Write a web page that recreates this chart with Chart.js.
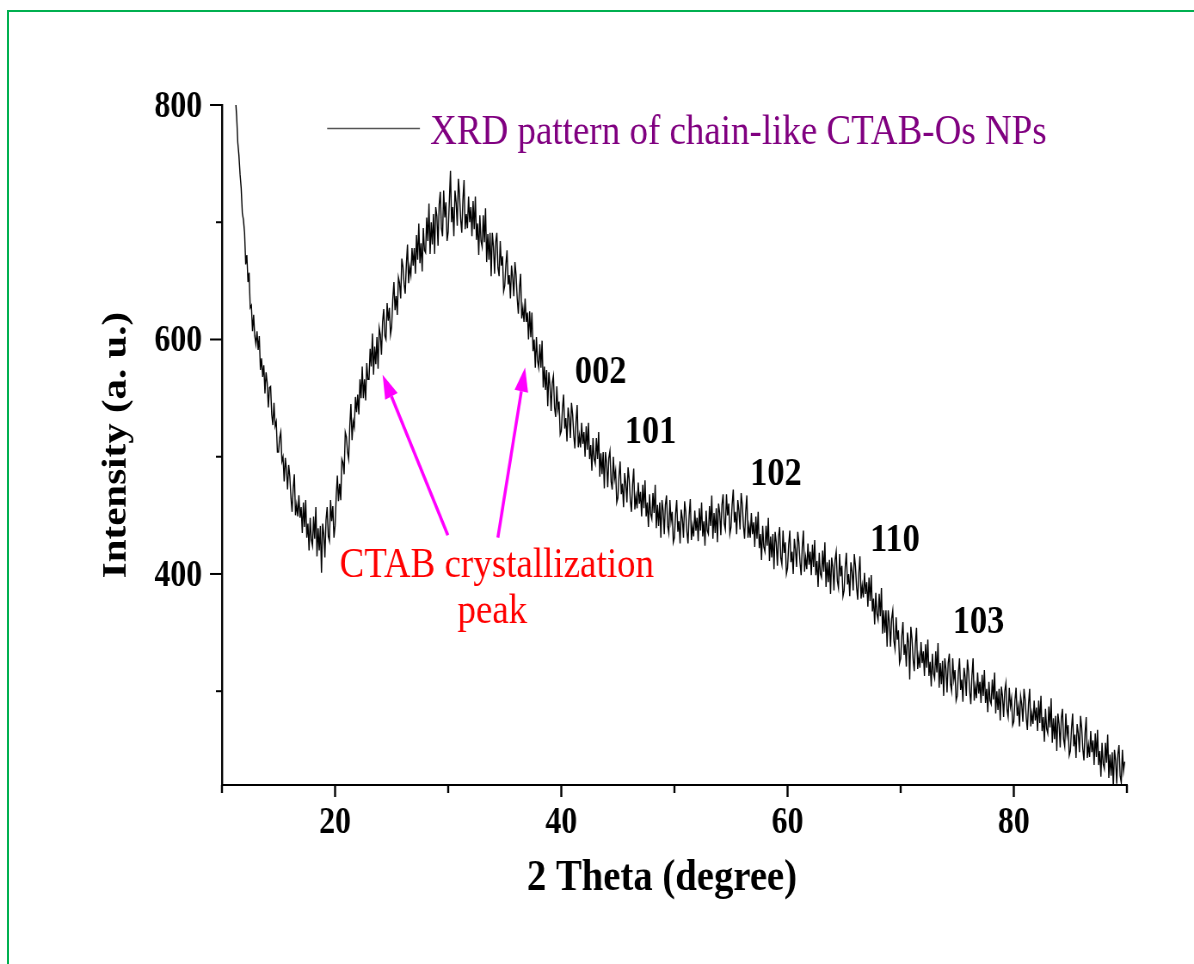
<!DOCTYPE html>
<html>
<head>
<meta charset="utf-8">
<script src="https://cdn.jsdelivr.net/npm/chart.js@4.4.1/dist/chart.umd.min.js"></script>
<style>
  html, body { margin: 0; padding: 0; background: #fff; overflow: hidden; }
  #frame { position: absolute; left: 7px; top: 10px; width: 1220px; height: 1000px; border: 2px solid #00b050; }
  /* the original figure is squeezed horizontally, so the whole canvas is too */
  #wrap { position: absolute; left: 0; top: 0; width: 1388px; height: 964px; transform: scaleX(0.86023); transform-origin: 0 0; }
</style>
</head>
<body>
<div id="frame"></div>
<div id="wrap"><canvas id="xrd" width="1388" height="964"></canvas></div>
<script>
// XRD scan: first angle and step (degrees), then counts
const startAngle = 11.2;
const stepAngle = 0.1;
const intensity = [
  805, 790, 768, 757, 741, 729, 708, 702,
  691, 664, 672, 649, 657, 627, 629, 607, 621, 603, // 12
  596, 607, 591, 603, 574, 584, 568, 578, 554, 572, // 13
  563, 542, 559, 560, 536, 527, 546, 526, 530, 504, // 14
  504, 516, 521, 496, 500, 479, 499, 489, 472, 493, // 15
  483, 465, 453, 473, 485, 450, 459, 449, 467, 448, // 16
  457, 435, 461, 440, 463, 431, 443, 420, 448, 429, // 17
  424, 449, 430, 457, 415, 439, 420, 441, 401, 443, // 18
  434, 414, 446, 457, 432, 428, 463, 445, 458, 431, // 19
  441, 466, 484, 462, 477, 463, 498, 495, 485, 521, // 20
  517, 504, 498, 526, 545, 514, 530, 525, 551, 538, // 21
  553, 536, 566, 550, 577, 550, 566, 548, 580, 566, // 22
  566, 592, 577, 605, 570, 594, 579, 602, 575, 610, // 23
  604, 587, 615, 626, 603, 600, 631, 616, 627, 604, // 24
  611, 634, 649, 625, 637, 621, 653, 648, 635, 669, // 25
  662, 647, 639, 664, 681, 648, 662, 655, 678, 663, // 26
  678, 656, 689, 668, 699, 665, 682, 658, 695, 676, // 27
  674, 704, 684, 716, 673, 700, 681, 707, 673, 713, // 28
  705, 680, 715, 726, 695, 688, 727, 704, 717, 684, // 29
  692, 718, 744, 700, 713, 688, 727, 717, 697, 737, // 30
  724, 703, 691, 719, 736, 694, 707, 695, 722, 700, // 31
  713, 688, 718, 694, 722, 685, 699, 672, 706, 684, // 32
  679, 706, 683, 712, 666, 690, 668, 691, 654, 691, // 33
  679, 656, 683, 691, 661, 654, 684, 663, 671, 641, // 34
  646, 664, 676, 647, 655, 635, 663, 653, 637, 666, // 35
  655, 635, 622, 644, 656, 618, 627, 615, 635, 615, // 36
  623, 600, 624, 602, 623, 590, 600, 576, 602, 582, // 37
  576, 596, 576, 599, 559, 577, 557, 574, 543, 572, // 38
  561, 539, 563, 569, 542, 534, 560, 540, 547, 519, // 39
  522, 541, 553, 524, 533, 513, 542, 533, 516, 546, // 40
  536, 518, 507, 530, 544, 508, 518, 508, 529, 511, // 41
  521, 500, 526, 506, 529, 498, 510, 488, 516, 498, // 42
  494, 516, 498, 521, 483, 503, 485, 504, 473, 504, // 43
  495, 474, 499, 505, 479, 472, 500, 481, 488, 461, // 44
  465, 484, 496, 468, 477, 457, 486, 477, 461, 491, // 45
  481, 463, 453, 476, 490, 455, 466, 456, 478, 460, // 46
  470, 449, 476, 456, 480, 449, 461, 440, 468, 451, // 47
  447, 469, 452, 476, 439, 459, 441, 461, 431, 463, // 48
  454, 434, 459, 467, 441, 435, 463, 445, 453, 427, // 49
  431, 451, 463, 436, 445, 426, 455, 447, 431, 462, // 50
  453, 436, 426, 450, 464, 429, 441, 432, 454, 437, // 51
  448, 428, 456, 437, 461, 432, 445, 424, 454, 437, // 52
  434, 458, 441, 467, 430, 452, 435, 456, 427, 460, // 53
  452, 433, 459, 468, 443, 438, 468, 450, 460, 434, // 54
  440, 459, 472, 444, 453, 434, 463, 454, 438, 469, // 55
  459, 441, 430, 453, 467, 431, 441, 431, 452, 434, // 56
  444, 423, 449, 430, 453, 422, 434, 412, 441, 423, // 57
  419, 441, 424, 448, 411, 432, 414, 434, 404, 436, // 58
  427, 407, 432, 440, 414, 408, 437, 418, 427, 400, // 59
  405, 425, 437, 410, 419, 400, 430, 421, 406, 436, // 60
  427, 410, 399, 423, 437, 402, 414, 404, 426, 408, // 61
  419, 399, 425, 406, 429, 399, 411, 389, 418, 400, // 62
  397, 420, 402, 427, 389, 410, 393, 412, 383, 414, // 63
  406, 386, 412, 419, 394, 388, 417, 398, 407, 381, // 64
  386, 406, 418, 391, 400, 381, 410, 402, 386, 417, // 65
  407, 389, 378, 401, 415, 379, 390, 380, 401, 383, // 66
  393, 372, 397, 377, 399, 368, 379, 357, 384, 366, // 67
  361, 383, 364, 388, 349, 369, 350, 369, 338, 369, // 68
  359, 338, 362, 369, 343, 336, 363, 344, 352, 324, // 69
  328, 347, 359, 331, 340, 321, 350, 341, 310, 355, // 70
  345, 327, 317, 340, 354, 319, 330, 320, 342, 324, // 71
  334, 313, 340, 320, 344, 313, 325, 304, 332, 315, // 72
  311, 334, 316, 341, 303, 324, 306, 326, 296, 328, // 73
  319, 299, 324, 332, 306, 300, 328, 310, 318, 292, // 74
  296, 316, 328, 301, 310, 291, 320, 312, 296, 327, // 75
  317, 300, 289, 313, 328, 292, 304, 294, 316, 298, // 76
  308, 290, 314, 296, 318, 290, 302, 282, 308, 292, // 77
  289, 310, 293, 316, 281, 300, 284, 302, 275, 304, // 78
  296, 278, 300, 307, 284, 278, 303, 287, 294, 271, // 79
  274, 292, 303, 279, 287, 270, 296, 289, 274, 302, // 80
  293, 277, 267, 289, 302, 270, 281, 272, 292, 275, // 81
  286, 266, 292, 273, 296, 266, 278, 257, 285, 268, // 82
  264, 287, 269, 294, 256, 277, 259, 279, 249, 281, // 83
  272, 252, 277, 285, 259, 253, 281, 263, 271, 245, // 84
  249, 268, 281, 253, 263, 243, 272, 264, 248, 279, // 85
  269, 251, 241, 264, 278, 243, 254, 244, 266, 248, // 86
  258, 237, 264, 244, 267, 237, 249, 227, 256, 238, // 87
  234, 256, 239, 263, 226, 246, 228, 248, 218, 250, // 88
  241, 221, 246, 254, 228, 222, 250, 232, 240        // 89
];

// axes
const xTickValues = [10, 20, 30, 40, 50, 60, 70, 80, 90];
const xTickLabels = ["", "20", "", "40", "", "60", "", "80", ""];
const yTickValues = [300, 400, 500, 600, 700, 800];
const yTickLabels = ["", "400", "", "600", "", "800"];

// texts
const seriesName = "XRD pattern of chain-like CTAB-Os NPs";
const xTitle = "2 Theta (degree)";
const yTitle = "Intensity (a. u.)";
const peakNames = ["002", "101", "102", "110", "103"];
const noteLines = ["CTAB crystallization", "peak"];

// where the annotations sit, in data units (angle, counts)
const peakNameAt = [[41.2, 563], [45.6, 512], [56.7, 476], [67.3, 420], [74.6, 350]];
const noteAt = [[34.3, 397], [33.9, 358]];
const arrowFrom = [[29.97, 433], [34.39, 431]];
const arrowTo = [[24.2, 570], [36.8, 576]];
const legendAt = [19.3, 27.5, 780, 28.4, 767];

const SX = 1194 / 1388;
const SERIF = '"Liberation Serif", "Times New Roman", serif';

const points = intensity.map((v, i) => ({ x: +(startAngle + i * stepAngle).toFixed(2), y: v }));

function line(ctx, x1, y1, x2, y2) {
  ctx.beginPath();
  ctx.moveTo(x1, y1);
  ctx.lineTo(x2, y2);
  ctx.stroke();
}

const annotate = {
  id: "annotate",
  afterDraw(chart) {
    const { ctx, chartArea: a, scales: { x, y } } = chart;
    ctx.save();
    ctx.strokeStyle = "#000";
    ctx.fillStyle = "#000";

    // y ticks + labels
    ctx.lineWidth = 2;
    ctx.font = "bold 37px " + SERIF;
    ctx.textAlign = "right";
    ctx.textBaseline = "alphabetic";
    yTickValues.forEach((v, i) => {
      const py = y.getPixelForValue(v);
      const len = yTickLabels[i] ? 12 / SX : 6 / SX;
      line(ctx, a.left - len, py, a.left, py);
      if (yTickLabels[i]) ctx.fillText(yTickLabels[i], a.left - 23, py + 12);
    });

    // x ticks + labels
    ctx.lineWidth = 2.4;
    ctx.textAlign = "center";
    xTickValues.forEach((v, i) => {
      const pxl = x.getPixelForValue(v);
      const len = xTickLabels[i] ? 12 : 8;
      line(ctx, pxl, a.bottom, pxl, a.bottom + len);
      if (xTickLabels[i]) ctx.fillText(xTickLabels[i], pxl, a.bottom + 48);
    });

    // axis titles
    ctx.font = "bold 45px " + SERIF;
    ctx.fillText(xTitle, x.getPixelForValue(48.9), a.bottom + 105);
    ctx.save();
    ctx.translate(126 / SX, (a.top + a.bottom) / 2);
    ctx.rotate(-Math.PI / 2);
    ctx.font = "bold 41px " + SERIF;
    ctx.fillText(yTitle, 0, 0);
    ctx.restore();

    // legend
    ctx.strokeStyle = "#555";
    ctx.lineWidth = 1.5;
    const ly = y.getPixelForValue(legendAt[2]);
    line(ctx, x.getPixelForValue(legendAt[0]), ly, x.getPixelForValue(legendAt[1]), ly);
    ctx.fillStyle = "#800080";
    ctx.font = "43px " + SERIF;
    ctx.textAlign = "left";
    ctx.fillText(seriesName, x.getPixelForValue(legendAt[3]), y.getPixelForValue(legendAt[4]));

    // reflection indices
    ctx.fillStyle = "#000";
    ctx.font = "bold 40px " + SERIF;
    peakNames.forEach((t, i) => {
      ctx.fillText(t, x.getPixelForValue(peakNameAt[i][0]), y.getPixelForValue(peakNameAt[i][1]));
    });

    // CTAB note
    ctx.fillStyle = "#ff0000";
    ctx.font = "43px " + SERIF;
    ctx.textAlign = "center";
    noteLines.forEach((t, i) => {
      ctx.fillText(t, x.getPixelForValue(noteAt[i][0]), y.getPixelForValue(noteAt[i][1]));
    });

    // arrows
    ctx.strokeStyle = "#ff00ff";
    ctx.fillStyle = "#ff00ff";
    ctx.lineWidth = 3.5;
    arrowFrom.forEach((f, i) => {
      const x1 = x.getPixelForValue(f[0]), y1 = y.getPixelForValue(f[1]);
      const x2 = x.getPixelForValue(arrowTo[i][0]), y2 = y.getPixelForValue(arrowTo[i][1]);
      const ang = Math.atan2(y2 - y1, x2 - x1);
      const head = 24, half = 8;
      const bx = x2 - head * Math.cos(ang), by = y2 - head * Math.sin(ang);
      line(ctx, x1, y1, bx, by);
      ctx.beginPath();
      ctx.moveTo(x2, y2);
      ctx.lineTo(bx + half * Math.sin(ang), by - half * Math.cos(ang));
      ctx.lineTo(bx - half * Math.sin(ang), by + half * Math.cos(ang));
      ctx.closePath();
      ctx.fill();
    });

    ctx.restore();
  }
};

new Chart(document.getElementById("xrd").getContext("2d"), {
  type: "line",
  data: {
    datasets: [{
      label: seriesName,
      data: points,
      borderColor: "#000",
      borderWidth: 1.4,
      pointRadius: 0,
      tension: 0,
      fill: false
    }]
  },
  options: {
    responsive: false,
    animation: false,
    devicePixelRatio: 1,
    layout: { padding: { left: 258, right: 78, top: 105, bottom: 179 } },
    plugins: {
      legend: { display: false },
      tooltip: { enabled: false }
    },
    scales: {
      x: {
        type: "linear",
        min: 10,
        max: 90,
        grid: { display: false, drawTicks: false },
        ticks: { display: false },
        border: { color: "#000", width: 2 },
        afterFit(s) { s.height = 0; }
      },
      y: {
        type: "linear",
        min: 220,
        max: 800,
        grid: { display: false, drawTicks: false },
        ticks: { display: false },
        border: { color: "#000", width: 2.4 },
        afterFit(s) { s.width = 0; }
      }
    }
  },
  plugins: [annotate]
});
</script>
</body>
</html>
